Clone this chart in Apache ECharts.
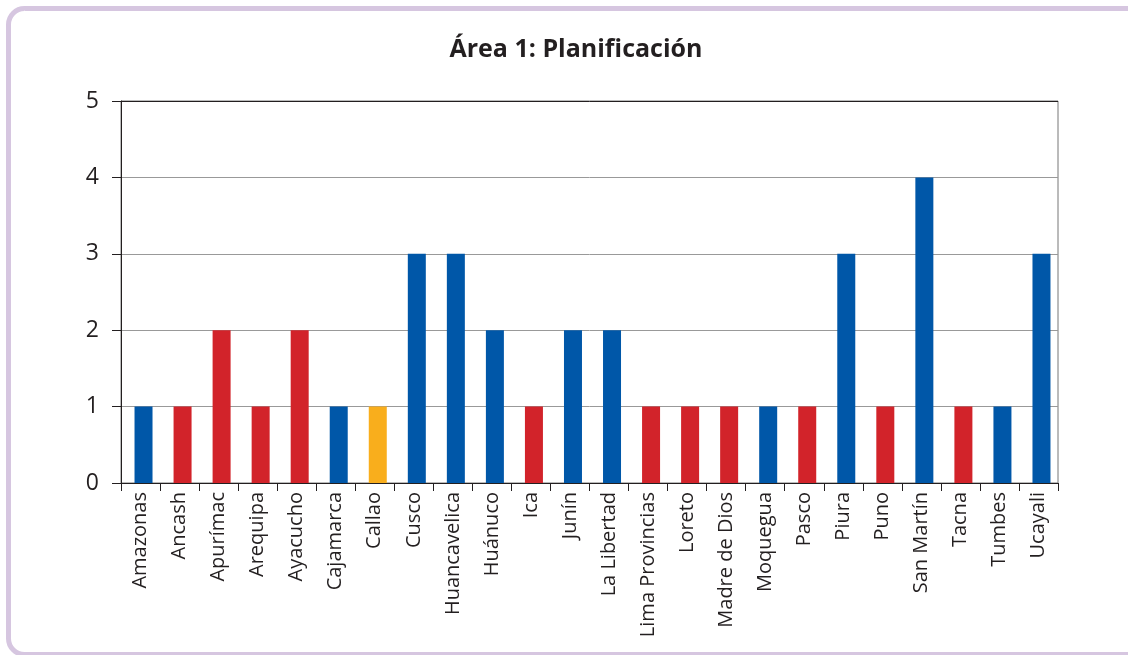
<!DOCTYPE html>
<html>
<head>
<meta charset="utf-8">
<script src="https://cdn.jsdelivr.net/npm/echarts@6/dist/echarts.min.js"></script>
<style>
html,body{margin:0;padding:0;background:#fff;}
#chart{width:1128px;height:655px;}
</style>
</head>
<body>
<div id="chart"></div>
<script>
const categories = ['Amazonas','Ancash','Apurímac','Arequipa','Ayacucho','Cajamarca','Callao','Cusco','Huancavelica','Huánuco','Ica','Junín','La Libertad','Lima Provincias','Loreto','Madre de Dios','Moquegua','Pasco','Piura','Puno','San Martín','Tacna','Tumbes','Ucayali'];
const values = [1,1,2,1,2,1,1,3,3,2,1,2,2,1,1,1,1,1,3,1,4,1,1,3];
const groups = ['b','r','r','r','r','b','o','b','b','b','r','b','b','r','r','r','b','r','b','r','b','r','b','b'];
const yTicks = [0,1,2,3,4,5];
const titleText = 'Área 1: Planificación';

const palette = {b:'#0057A8', r:'#D2232A', o:'#F9AE1C'};
const font = '"Open Sans", "Noto Sans", sans-serif';
const chart = echarts.init(document.getElementById('chart'), null, {renderer:'canvas'});
chart.setOption({
  animation:false,
  backgroundColor:'#fff',
  graphic:[{
    type:'rect', left:6, top:6, z:-10,
    shape:{width:1160, height:646, r:16},
    style:{fill:'#fff', stroke:'#D6C6E0', lineWidth:5}
  }],
  title:{
    text:titleText, left:571, top:32, textAlign:'center',
    textStyle:{fontFamily:font, fontWeight:'bold', fontSize:25, color:'#231F20'}
  },
  grid:{left:121, right:70, top:101, bottom:172, show:true, borderColor:'#777', borderWidth:1, backgroundColor:'transparent'},
  xAxis:{
    type:'category', data:categories,
    axisLine:{show:true, lineStyle:{color:'#231F20', width:1}},
    axisTick:{show:true, length:8, alignWithLabel:false, lineStyle:{color:'#231F20'}},
    axisLabel:{rotate:90, interval:0, margin:9, fontFamily:font, fontSize:20, color:'#231F20'}
  },
  yAxis:{
    type:'value', min:yTicks[0], max:yTicks[yTicks.length-1], interval:1,
    axisLine:{show:true, lineStyle:{color:'#231F20', width:1}},
    axisTick:{show:true, length:9, lineStyle:{color:'#231F20'}},
    axisLabel:{margin:22, fontFamily:font, fontSize:23, color:'#231F20'},
    splitLine:{show:true, lineStyle:{color:['#999','#999','#999','#999','#999','#231F20'], width:1}}
  },
  series:[{
    name:'spacer', type:'bar', barWidth:6, barGap:'0%', silent:true,
    data: values.map(()=>null)
  },{
    type:'bar', barWidth:18, barGap:'0%',
    data: values.map((v,i)=>({value:v, itemStyle:{color:palette[groups[i]]}}))
  }]
});
</script>
</body>
</html>
